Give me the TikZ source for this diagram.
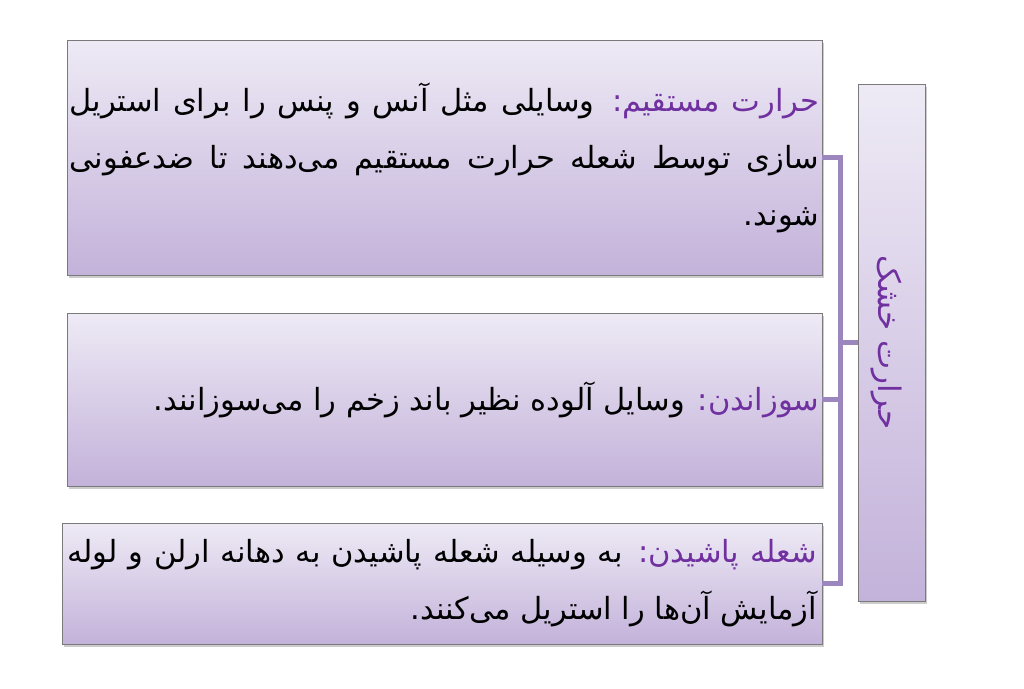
\documentclass[tikz,border=0pt]{standalone}
\usepackage{fontspec}
\TeXXeTstate=1
\newfontfamily\arabicfont[Script=Arabic]{DejaVu Sans}
\newfontfamily\arabicpurple[Script=Arabic,Color=7030A0]{DejaVu Sans}
\usetikzlibrary{shadows,calc}
\definecolor{boxtop}{HTML}{EEEAF5}
\definecolor{boxbot}{HTML}{C3B2DA}
\definecolor{conncol}{HTML}{9B87BE}
\definecolor{ptext}{HTML}{7030A0}
\definecolor{edgecol}{HTML}{7A7A7A}
\newcommand{\jline}[1]{\hbox to 750pt{\beginR #1\endR}}
\newcommand{\rline}[1]{\hbox to 750pt{\hfill\beginR #1\endR}}
\newcommand{\zw}{^^^^200c}
\newcommand{\pur}[1]{{\arabicpurple\fontsize{30.5}{57}\selectfont #1}}
\tikzset{
  card/.style={draw=edgecol, line width=0.9pt, top color=boxtop, bottom color=boxbot,
    inner sep=0pt, drop shadow={opacity=0.4, shadow xshift=2pt, shadow yshift=-3pt}},
  conn/.style={draw=conncol, line width=5pt, line join=miter},
  bodytext/.style={font=\arabicfont\fontsize{30.5}{57}\selectfont},
}
\begin{document}
\begin{tikzpicture}[x=1pt,y=-1pt]
\useasboundingbox (0,0) rectangle (1024,688);
\node[card, minimum width=755pt, minimum height=235pt, bodytext] (b1) at (444.5,157.5)
 {\vbox{\jline{\pur{حرارت مستقیم:} وسایلی مثل آنس و پنس را برای استریل}
        \jline{سازی توسط شعله حرارت مستقیم می\zw دهند تا ضدعفونی}
        \rline{شوند.}}};
\node[card, minimum width=755pt, minimum height=173pt, bodytext] (b2) at (444.5,399.5)
 {\vbox{\rline{\pur{سوزاندن:} وسایل آلوده نظیر باند زخم را می\zw سوزانند.}}};
\node[card, minimum width=760pt, minimum height=121pt, bodytext] (b3) at (442,583.5)
 {\vbox{\jline{\pur{شعله پاشیدن:} به وسیله شعله پاشیدن به دهانه ارلن و لوله}
        \rline{آزمایش آن\zw ها را استریل می\zw کنند.}}};
\node[card, minimum width=67pt, minimum height=517pt] (main) at (891.5,342.5) {};
\node[rotate=-90, font=\arabicpurple\fontsize{31}{36}\selectfont] (mt) at ($(main.center)+(-5,0)$)
 {\beginR حرارت خشک\endR};
\coordinate (j) at ($(main.west)+(-17,0)$);
\draw[conn] (main.west) -- (j);
\draw[conn] (b1.east) -| (j) |- (b3.east);
\draw[conn] (b2.east) -- (b2.east -| j);
\end{tikzpicture}
\end{document}
